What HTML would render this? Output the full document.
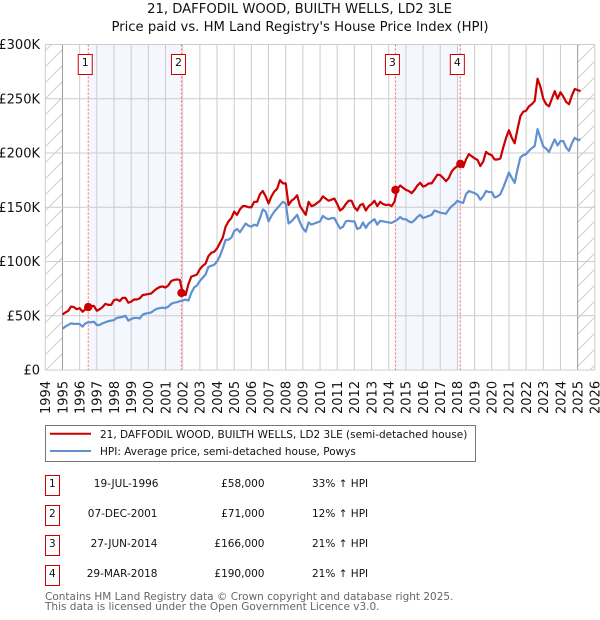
<!DOCTYPE html>
<html>
<head>
<meta charset="utf-8">
<style>
html,body{margin:0;padding:0;background:#fff;}
svg{display:block;font-family:"DejaVu Sans","Liberation Sans",sans-serif;}
</style>
</head>
<body>
<svg id="chart" width="600" height="620" viewBox="0 0 600 620" xmlns="http://www.w3.org/2000/svg">
<defs>
<pattern id="hatch" patternUnits="userSpaceOnUse" width="16" height="16">
<path d="M-2 2L2 -2M0 16L16 0M14 18L18 14" stroke="#cfcfcf" stroke-width="1" fill="none"/>
</pattern>
</defs>
<text x="299.5" y="13" font-size="13.2" text-anchor="middle" fill="#111">21, DAFFODIL WOOD, BUILTH WELLS, LD2 3LE</text>
<text x="300" y="31" font-size="13.2" text-anchor="middle" fill="#111">Price paid vs. HM Land Registry's House Price Index (HPI)</text>
<g id="plot"></g>

<g>
<rect x="45.5" y="425.5" width="430" height="36" fill="#fff" stroke="#777" stroke-width="1"/>
<line x1="50" x2="91" y1="433.8" y2="433.8" stroke="#cc0000" stroke-width="2"/>
<text x="100" y="438" font-size="10.5" fill="#111">21, DAFFODIL WOOD, BUILTH WELLS, LD2 3LE (semi-detached house)</text>
<line x1="50" x2="91" y1="451" y2="451" stroke="#6090d0" stroke-width="2"/>
<text x="100" y="455" font-size="10.5" fill="#111">HPI: Average price, semi-detached house, Powys</text>
</g>

<g font-size="10.5" fill="#111">
<g>
<rect x="45.5" y="475.5" width="14" height="20" fill="#fff" stroke="#cc0000"/>
<text x="52.3" y="487" text-anchor="middle">1</text>
<text x="158.5" y="487" text-anchor="end">19-JUL-1996</text>
<text x="264.5" y="487" text-anchor="end">£58,000</text>
<text x="312" y="487">33% ↑ HPI</text>
</g>
<g>
<rect x="45.5" y="505.5" width="14" height="20" fill="#fff" stroke="#cc0000"/>
<text x="52.3" y="517" text-anchor="middle">2</text>
<text x="157.5" y="517" text-anchor="end">07-DEC-2001</text>
<text x="264.5" y="517" text-anchor="end">£71,000</text>
<text x="312" y="517">12% ↑ HPI</text>
</g>
<g>
<rect x="45.5" y="535.5" width="14" height="20" fill="#fff" stroke="#cc0000"/>
<text x="52.3" y="547" text-anchor="middle">3</text>
<text x="157.5" y="547" text-anchor="end">27-JUN-2014</text>
<text x="264.5" y="547" text-anchor="end">£166,000</text>
<text x="312" y="547">21% ↑ HPI</text>
</g>
<g>
<rect x="45.5" y="565.5" width="14" height="20" fill="#fff" stroke="#cc0000"/>
<text x="52.3" y="577" text-anchor="middle">4</text>
<text x="157.5" y="577" text-anchor="end">29-MAR-2018</text>
<text x="264.5" y="577" text-anchor="end">£190,000</text>
<text x="312" y="577">21% ↑ HPI</text>
</g>
</g>

<text x="45" y="600" font-size="10.5" fill="#666">Contains HM Land Registry data © Crown copyright and database right 2025.</text>
<text x="45" y="610" font-size="10.5" fill="#666">This data is licensed under the Open Government Licence v3.0.</text>
</svg>
<script>
var yearTicks = [1994,1995,1996,1997,1998,1999,2000,2001,2002,2003,2004,2005,2006,2007,2008,2009,2010,2011,2012,2013,2014,2015,2016,2017,2018,2019,2020,2021,2022,2023,2024,2025,2026];
var priceTicks = [0,50000,100000,150000,200000,250000,300000];
var priceTickLabels = ['£0','£50K','£100K','£150K','£200K','£250K','£300K'];
var seriesStartYear = 1995;
var samplesPerYear = 6;
// Price paid series, £ thousands, one value every two months from Jan 1995
var paidSeries = [
51,53,54.5,58.5,58,56,
57,53.7,56,58,59,59,
54.6,56,58,61,60,60,
64.5,65,63.5,66.5,66.5,62,
63,65,65,66,69,69.5,
70,70.5,73,75,76.5,77,
76,78,82,83,83.5,83,
71,69,79,86,87,88,
93,96,98,105,108,109,
112,117,122,132,137,140,
146,143,148,151,151,150,
150,155,155,162,165,160,
153.5,160,164.5,167,175,172,
172,152,156,158,161,151,
147,143,155,151,152,154,
156,160,158,156,157,158,
153,147,149,153,156,156,
150,147,152,153,147,151,
153,156,151,155,153,152,
152.5,151,155,167,170,168,
166,165,163,166,170,172.5,
169,170,172,172,176,180,
179.6,177,174,177,183,186,
188,190,187,194,199,197,
195,193.7,188,192,201,199,
198,194,194,195,205,214,
221,214,209,222,234,238,
239,243,245,248,268.5,261,
250,245,243,250,257,250,
256,252,247,245,253,259,
258,257
];
// HPI series, £ thousands, same sampling
var hpiSeries = [
38,40,41.5,43,42.5,42.5,
42.4,40,43,44,44,44.5,
41.5,41.5,43,44,45,45.5,
46,48,48.5,49,50,45.5,
47,48,48,47.5,51,52,
52.5,53,55,56.5,57,57.5,
57,58.5,61,62,62.5,63.5,
64,65,64,71,76,78,
82,85,88,95,96,97,
100,105,112,120,120,122,
128,130,127,131,135,133,
132,134,133,140,148,146,
137,142,146,149,152,155,
153.5,135,137,140,143,136,
130.5,127.5,136,134,135,136,
137,142,140,139,140,140,
135,130.5,132,137,137.5,137,
137,130,131,136,131,135,
137,139,134,137.5,137,136.5,
136,135.5,137,138.5,141,139,
139,137,136,138,141,143,
140,141,142,143,147,146,
145,144.5,144,148,151,153,
156,154.6,154,162,165,164,
163,161.5,157,160,165,164,
164,159,160,162,168,175,
182,177,172.5,185,196,198,
199,202,204.5,206.5,222,214,
206,204,201,207,212.5,207,
211,211,205,202,209,214,
212,212.5
];
var saleYears = [1996.5,2001.93,2014.39,2018.17];
var salePrices = [58000,71000,166000,190000];
var saleLabels = ['1','2','3','4'];
var NS = 'http://www.w3.org/2000/svg';
var plot = document.getElementById('plot');
function xScale(year){ return 45.3 + (year - 1994) * (549.5 / 32); }
function yScale(value){ return 370 - value * (325.5 / 300000); }
function make(tag, attrs, parent, text){
  var el = document.createElementNS(NS, tag);
  for (var k in attrs) { el.setAttribute(k, attrs[k]); }
  if (text !== undefined) { el.textContent = text; }
  (parent || plot).appendChild(el);
  return el;
}
var left = xScale(1994), right = xScale(2026), top0 = yScale(300000), bottom = yScale(0);

// shaded ownership bands between sale pairs
for (var b = 0; b + 1 < saleYears.length; b += 2) {
  var band = make('rect', {x: xScale(saleYears[b]), y: top0, width: xScale(saleYears[b+1]) - xScale(saleYears[b]), height: bottom - top0, fill: '#f4f7fe'});
  
  
}
// hatched out-of-range regions
var hatchLeft = make('rect', {x: left, y: top0, width: xScale(1995) - left, height: bottom - top0, fill: 'url(#hatch)'});


var hatchRight = make('rect', {x: xScale(2025), y: top0, width: right - xScale(2025), height: bottom - top0, fill: 'url(#hatch)'});



// vertical gridlines and year labels
yearTicks.forEach(function(year){
  var x = xScale(year);
  var edge = (year === 1995 || year === 2025);
  var grid = make('line', {x1: x, x2: x, y1: top0, y2: bottom, stroke: edge ? '#999' : '#ccc', 'stroke-width': 1});
  
  
  var label = make('text', {transform: 'translate(' + (x + 4.8) + ',' + 414 + ') rotate(-90)', 'font-size': 13, fill: '#111'}, plot, String(year));
  
  
});
// horizontal gridlines and price labels
priceTicks.forEach(function(value, i){
  var y = yScale(value);
  var grid = make('line', {x1: left, x2: right, y1: y, y2: y, stroke: '#ccc', 'stroke-width': 1});
  
  
  var label = make('text', {x: 40, y: y + 4.5, 'font-size': 13, 'text-anchor': 'end', fill: '#111'}, plot, priceTickLabels[i]);
  
  
});
// sale vertical markers
saleYears.forEach(function(year){
  var x = xScale(year);
  var v = make('line', {x1: x, x2: x, y1: top0, y2: bottom, stroke: '#ff6666', 'stroke-width': 1, 'stroke-dasharray': '2,2'});
  
  
});
function linePath(values){
  return values.map(function(v, i){
    return (i ? 'L' : 'M') + xScale(seriesStartYear + i / samplesPerYear).toFixed(2) + ' ' + yScale(v * 1000).toFixed(2);
  }).join('');
}
var hpiLine = make('path', {d: linePath(hpiSeries), fill: 'none', stroke: '#6090d0', 'stroke-width': 2.2, 'stroke-linejoin': 'round'});


var paidLine = make('path', {d: linePath(paidSeries), fill: 'none', stroke: '#cc0000', 'stroke-width': 2.2, 'stroke-linejoin': 'round'});


// sale points and number badges
saleYears.forEach(function(year, i){
  var x = xScale(year);
  var pt = make('circle', {cx: x, cy: yScale(salePrices[i]), r: 4.2, fill: '#cc0000'});
  
  
  var box = make('rect', {x: x - 10, y: 54.5, width: 14, height: 20, fill: '#fff', stroke: '#cc0000', 'stroke-width': 1});
  
  
  var num = make('text', {x: x - 3, y: 66, 'font-size': 11, 'text-anchor': 'middle', fill: '#111'}, plot, saleLabels[i]);
  
  
});
</script>
</body>
</html>
